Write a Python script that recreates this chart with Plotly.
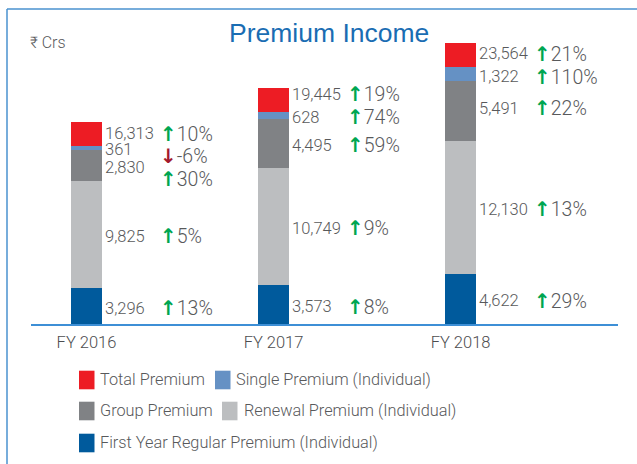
import plotly.graph_objects as go

# ---------------- data ----------------
categories = ["FY 2016", "FY 2017", "FY 2018"]
first_year = [3296, 3573, 4622]
renewal = [9825, 10749, 12130]
group = [2830, 4495, 5491]
single = [361, 628, 1322]
total = [16313, 19445, 23564]

first_year_growth = [13, 8, 29]
renewal_growth = [5, 9, 13]
group_growth = [30, 59, 22]
single_growth = [-6, 74, 110]
total_growth = [10, 19, 21]

series_names = [
    "Total Premium",
    "Single Premium (Individual)",
    "Group Premium",
    "Renewal Premium (Individual)",
    "First Year Regular Premium (Individual)",
]

# ---------------- style ----------------
C_TOTAL = "#ed1c24"
C_SINGLE = "#6591c4"
C_GROUP = "#808285"
C_RENEWAL = "#bcbec0"
C_FIRST = "#005a9c"
TXT = "#58595b"
GREEN = "#00a651"
DARKRED = "#a3192e"
BLUE_LINE = "#4a92cf"
FONT = "Roboto, Liberation Sans, Arial, sans-serif"

W, H = 637, 464
L, R, T, B = 31, 618, 40, 324
X_RANGE = [-0.2968, 2.842]
Y_RANGE = [0, 26014]
CAP = 2170          # visual height of the red "total" cap, in data units
BAR_W = 0.166

def px_x(p):
    return (p - L) / (R - L)

def px_y(p):
    return (B - p) / (B - T)

x = list(range(len(categories)))
cap = [CAP for _ in categories]

fig = go.Figure()
for vals, name, col in [
    (first_year, series_names[4], C_FIRST),
    (renewal, series_names[3], C_RENEWAL),
    (group, series_names[2], C_GROUP),
    (single, series_names[1], C_SINGLE),
]:
    fig.add_trace(go.Bar(x=x, y=vals, name=name, marker_color=col,
                         marker_line_width=0, width=BAR_W, showlegend=False))
fig.add_trace(go.Bar(x=x, y=cap, name=series_names[0], marker_color=C_TOTAL,
                     marker_line_width=0, width=BAR_W, showlegend=False,
                     customdata=total, hovertemplate="%{customdata:,}<extra></extra>"))

annotations = []
# vertical nudges in px (positive = down)
val_nudge = {(0, "total"): -0.5, (0, "single"): 1.5, (1, "total"): -5, (2, "group"): -3,
             (2, "total"): -1, (2, "single"): 3}
pct_nudge = {(0, "total"): -0.5, (0, "single"): 8, (0, "group"): 14, (1, "total"): -6,
             (2, "group"): -3, (2, "total"): -1, (2, "single"): 3}

PCT_DX = 71  # px from bar centre to the left edge of the arrow+percent label

def arrow_span(g):
    col = GREEN if g >= 0 else DARKRED
    ch = "↑" if g >= 0 else "↓"
    return (f"<span style='fill:{col};font-family:DejaVu Sans;font-weight:bold;"
            f"font-size:20px'>{ch}</span>")

for i in x:
    segs = [
        ("first", first_year[i], first_year_growth[i], 0, first_year[i]),
        ("renewal", renewal[i], renewal_growth[i], first_year[i], renewal[i]),
        ("group", group[i], group_growth[i], first_year[i] + renewal[i], group[i]),
        ("single", single[i], single_growth[i], first_year[i] + renewal[i] + group[i], single[i]),
    ]
    base_total = first_year[i] + renewal[i] + group[i] + single[i]
    segs.append(("total", total[i], total_growth[i], base_total, CAP))
    for key, val, g, base, h in segs:
        ymid = base + h / 2
        vn = val_nudge.get((i, key), 2)
        pn = pct_nudge.get((i, key), vn)
        annotations.append(dict(x=i, y=ymid, xref="x", yref="y", text=f"{val:,}",
                                showarrow=False, xanchor="left", yanchor="middle",
                                xshift=16, yshift=-vn,
                                font=dict(family=FONT, size=16.5, color=TXT, weight=300)))
        annotations.append(dict(x=i, y=ymid, xref="x", yref="y",
                                text=arrow_span(g) + f"{g}%",
                                showarrow=False, xanchor="left", yanchor="middle",
                                xshift=PCT_DX, yshift=-pn,
                                font=dict(family=FONT, size=19.5, color=TXT, weight=300)))

# title and unit
annotations.append(dict(x=px_x(329), y=px_y(33), xref="paper", yref="paper",
                        text="Premium Income", showarrow=False,
                        xanchor="center", yanchor="middle",
                        font=dict(family="Liberation Sans, Arial, sans-serif", size=26.5, color="#1a6db3")))
annotations.append(dict(x=px_x(28), y=px_y(42), xref="paper", yref="paper",
                        text="₹ Crs", showarrow=False, xanchor="left", yanchor="middle",
                        font=dict(family=FONT, size=16, color=TXT, weight=300)))

# manual legend
shapes = []
legend_items = [
    (series_names[0], C_TOTAL, 79, 100, 380),
    (series_names[1], C_SINGLE, 215, 236, 380),
    (series_names[2], C_GROUP, 79, 100, 411),
    (series_names[3], C_RENEWAL, 222, 244, 411),
    (series_names[4], C_FIRST, 79, 100, 443),
]
for name, col, sx, tx, cy in legend_items:
    shapes.append(dict(type="rect", xref="paper", yref="paper",
                       x0=px_x(sx), x1=px_x(sx + 15.5), y0=px_y(cy - 9.3), y1=px_y(cy + 9.3),
                       fillcolor=col, line_width=0))
    annotations.append(dict(x=px_x(tx - 2), y=px_y(cy - 1), xref="paper", yref="paper",
                            text=name, showarrow=False, xanchor="left", yanchor="middle",
                            font=dict(family=FONT, size=16.3, color=TXT, weight=300)))

# frame lines (top and left)
shapes.append(dict(type="line", xref="paper", yref="paper",
                   x0=px_x(7), x1=px_x(640), y0=px_y(9), y1=px_y(9),
                   line=dict(color=BLUE_LINE, width=1.5)))
shapes.append(dict(type="line", xref="paper", yref="paper",
                   x0=px_x(7), x1=px_x(7), y0=px_y(9), y1=px_y(470),
                   line=dict(color=BLUE_LINE, width=1.5)))

fig.update_layout(
    width=W, height=H,
    margin=dict(l=L, r=W - R, t=T, b=H - B, pad=0),
    barmode="stack", bargap=0,
    plot_bgcolor="white", paper_bgcolor="white",
    annotations=annotations, shapes=shapes,
    xaxis=dict(range=X_RANGE, tickvals=x, ticktext=categories, showgrid=False,
               zeroline=False, showline=True, linecolor="#3d8fd6", linewidth=1.5,
               ticks="", ticklabelstandoff=2,
               tickfont=dict(family=FONT, size=16.5, color="#4d4d4f", weight=300),
               fixedrange=True),
    yaxis=dict(range=Y_RANGE, visible=False, showgrid=False, fixedrange=True),
)

fig.write_html("out.html", config={"displayModeBar": False},
               post_script="document.body.style.margin='0';document.body.style.overflow='hidden';")
